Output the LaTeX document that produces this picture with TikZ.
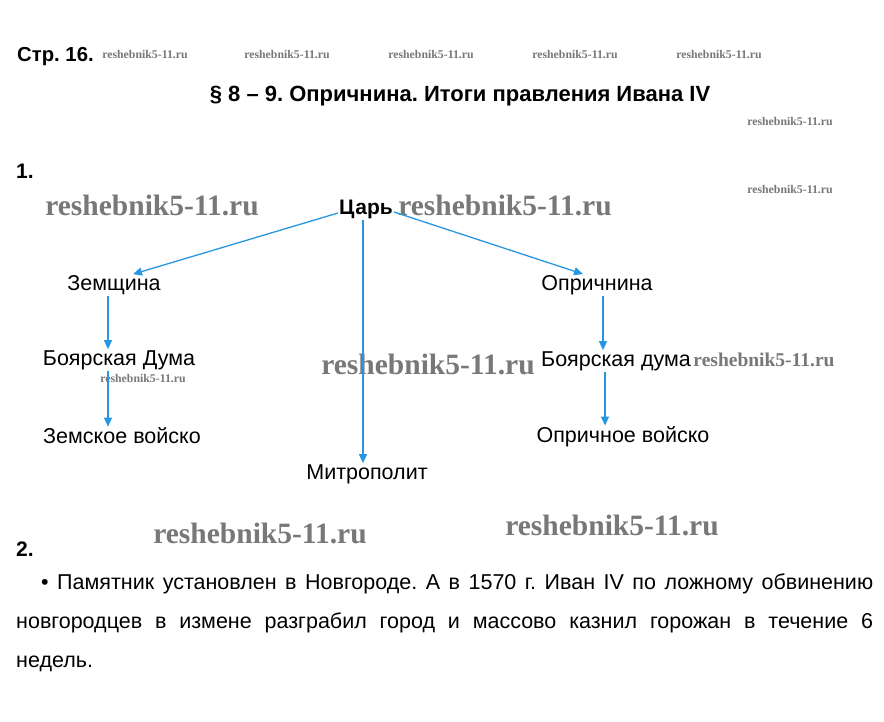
\documentclass[tikz,border=0pt]{standalone}
\usepackage{fontspec}
\setmainfont{Liberation Sans}
\newfontfamily\wmfont{Liberation Serif}
\usetikzlibrary{arrows.meta, positioning, calc}
\definecolor{myblue}{RGB}{40,150,225}
\definecolor{mywm}{RGB}{120,120,120}
\frenchspacing
\tikzset{
  lbl/.style={font=\fontsize{21.5}{24}\selectfont, inner sep=1pt, text=black},
  hdr/.style={font=\bfseries\fontsize{21}{24}\selectfont, inner sep=1pt, text=black},
  wmbig/.style={font=\wmfont\bfseries\fontsize{29.5}{30}\selectfont, text=mywm, inner sep=0pt},
  wmmid/.style={font=\wmfont\bfseries\fontsize{19.5}{20}\selectfont, text=mywm, inner sep=0pt},
  wmsmall/.style={font=\wmfont\bfseries\fontsize{11.8}{12}\selectfont, text=mywm, inner sep=0pt},
  arrow/.style={-{Triangle[length=9pt, width=8pt]}, color=myblue, line width=1.3pt}
}
\begin{document}
\begin{tikzpicture}[x=1pt, y=-1pt]
  \useasboundingbox[fill=white] (0,0) rectangle (884,722);
  % headings
  \node[hdr, anchor=west, font=\bfseries\fontsize{20.3}{24}\selectfont] (page) at (16,57) {Стр. 16.};
  \node[hdr, font=\bfseries\fontsize{22}{24}\selectfont] (title) at (460,96) {§ 8 – 9. Опричнина. Итоги правления Ивана IV};
  \node[hdr, anchor=west] (task1) at (15,171) {1.};
  \node[hdr, anchor=west] (task2) at (15,549) {2.};
  % watermarks
  \foreach \x in {145,287,431,575,719}
    \node[wmsmall] (wm\x) at (\x,54) {reshebnik5-11.ru};
  \node[wmsmall] (wmr1) at (790,121) {reshebnik5-11.ru};
  \node[wmsmall] (wmr2) at (790,189) {reshebnik5-11.ru};
  \node[wmsmall] (wmd) at (143,378) {reshebnik5-11.ru};
  \node[wmmid] (wmm) at (764,360) {reshebnik5-11.ru};
  \node[wmbig] (wma) at (152,205) {reshebnik5-11.ru};
  \node[wmbig] (wmb) at (505,205) {reshebnik5-11.ru};
  \node[wmbig] (wmc) at (428,364) {reshebnik5-11.ru};
  \node[wmbig] (wme) at (260,533) {reshebnik5-11.ru};
  \node[wmbig] (wmf) at (612,525) {reshebnik5-11.ru};
  % scheme
  \node[hdr] (tsar) at (366,209) {Царь};
  \node[lbl] (zem) at (114,285) {Земщина};
  \node[lbl] (opr) at (597,285) {Опричнина};
  \node[lbl] (duma1) at (119,360) {Боярская Дума};
  \node[lbl] (duma2) at (616,361) {Боярская дума};
  \node[lbl] (army1) at (122,436) {Земское войско};
  \node[lbl] (army2) at (623,437) {Опричное войско};
  \node[lbl] (metr) at (367,474) {Митрополит};

  \draw[arrow] ([yshift=-4pt]tsar.west) -- ([xshift=19pt]zem.north);
  \draw[arrow] ([yshift=-3pt]tsar.east) -- ([xshift=-14pt]opr.north);
  \draw[arrow] ([xshift=-3pt]tsar.south) -- ([xshift=-3pt]tsar.south |- metr.north);
  \draw[arrow] ([xshift=-6pt]zem.south) -- ([xshift=-6pt]zem.south |- duma1.north);
  \draw[arrow] ([xshift=-11pt]duma1.south) -- ([xshift=-11pt]duma1.south |- army1.north);
  \draw[arrow] ([xshift=6pt]opr.south) -- ([xshift=6pt]opr.south |- duma2.north);
  \draw[arrow] ([xshift=-11pt]duma2.south) -- ([xshift=-11pt]duma2.south |- army2.north);

  % answer text
  \node[lbl, anchor=north west, text width=857pt, align=justify,
    font=\fontsize{21.5}{39}\selectfont] (answer) at (15,573)
    {\hspace*{25pt}• Памятник установлен в Новгороде. А в 1570 г. Иван IV по ложному обвинению\linebreak
    новгородцев в измене разграбил город и массово казнил горожан в течение 6\linebreak
    недель.};
\end{tikzpicture}
\end{document}
